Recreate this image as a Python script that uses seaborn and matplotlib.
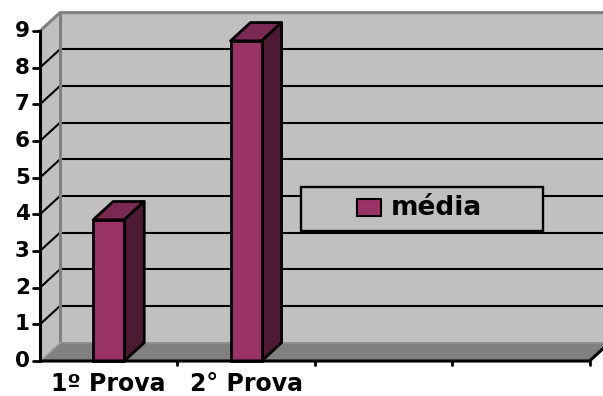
import numpy as np
import pandas as pd
import matplotlib
matplotlib.use("Agg")
import matplotlib.pyplot as plt
import seaborn as sns
from matplotlib.patches import Polygon, Rectangle

# ---- data ----
categories = ["1º Prova", "2° Prova", "", ""]
values = [3.85, 8.73]
series_name = "média"
y_ticks = list(range(0, 10))

# ---- style ----
sns.set_theme(style="white")
plt.rcParams["font.family"] = ["DejaVu Sans"]
FRONT = "#993366"
TOP = "#7a2952"
SIDE = "#4d1a33"
WALL = "#c0c0c0"
FLOOR = "#808080"
EDGE = "#808080"

DX, DY = 0.1455, 0.5      # 3-D depth offset in data units
BAR_W = 0.226
N_CAT = len(categories)
YMAX = 9

fig = plt.figure(figsize=(6.03, 3.96), dpi=100)
ax = fig.add_axes([0, 0, 1, 1])
ax.set_xlim(-0.791, 3.598)
ax.set_ylim(-0.954, 9.845)
ax.axis("off")

x0 = -0.5
x1 = N_CAT - 0.5
# back wall
ax.add_patch(Polygon([(x0 + DX, DY), (x1 + DX + 1, DY), (x1 + DX + 1, YMAX + DY), (x0 + DX, YMAX + DY)],
                     closed=True, facecolor=WALL, edgecolor="none", zorder=0))
# side wall
ax.add_patch(Polygon([(x0, 0), (x0, YMAX), (x0 + DX, YMAX + DY), (x0 + DX, DY)],
                     closed=True, facecolor=WALL, edgecolor="none", zorder=0))
# floor
ax.add_patch(Polygon([(x0, 0), (x1, 0), (x1 + DX, DY), (x0 + DX, DY)],
                     closed=True, facecolor=FLOOR, edgecolor="none", zorder=1))

# gridlines
for k in y_ticks[1:-1]:
    ax.plot([x0 + DX, x1 + DX + 1], [k + DY, k + DY], color="black", lw=1.5, zorder=1,
            solid_capstyle="butt")
    ax.plot([x0, x0 + DX], [k, k + DY], color="black", lw=1.5, zorder=1)

# wall edges
ax.plot([x0, x0 + DX, x1 + DX + 1], [YMAX, YMAX + DY, YMAX + DY], color=EDGE, lw=2.2, zorder=2)
ax.plot([x0 + DX, x0 + DX], [DY, YMAX + DY], color=EDGE, lw=2.2, zorder=2)
ax.plot([x0 + DX, x1 + DX + 1], [DY, DY], color="#909090", lw=1.2, zorder=2)
ax.plot([x0, x0 + DX], [0, DY], color="#a8a8a8", lw=1.2, zorder=2)

# front bars via seaborn
df = pd.DataFrame({"cat": categories[:len(values)], "val": values})
sns.barplot(data=df, x="cat", y="val", ax=ax, color=FRONT, saturation=1,
            width=BAR_W, edgecolor="black", linewidth=2.0, zorder=5, native_scale=False)
ax.set_xlim(-0.791, 3.598)
ax.set_ylim(-0.954, 9.845)
ax.axis("off")

# 3-D top and side faces from the bar patches
for p in list(ax.patches):
    if not isinstance(p, Rectangle) or p.get_facecolor()[:3] != matplotlib.colors.to_rgb(FRONT):
        continue
    bx, bw, bh = p.get_x(), p.get_width(), p.get_height()
    ax.add_patch(Polygon([(bx, bh), (bx + bw, bh), (bx + bw + DX, bh + DY), (bx + DX, bh + DY)],
                         closed=True, facecolor=TOP, edgecolor="black", lw=2.0, zorder=4,
                         joinstyle="round"))
    ax.add_patch(Polygon([(bx + bw, 0), (bx + bw, bh), (bx + bw + DX, bh + DY), (bx + bw + DX, DY)],
                         closed=True, facecolor=SIDE, edgecolor="black", lw=2.0, zorder=4,
                         joinstyle="round"))

# front axes lines
ax.plot([x0, x0], [0, YMAX], color="black", lw=2.2, zorder=6, solid_capstyle="projecting")
ax.plot([x0, x1, x1 + DX], [0, 0, DY], color="black", lw=2.2, zorder=6)
for k in y_ticks:
    ax.plot([x0 - 0.051, x0], [k, k], color="black", lw=2.0, zorder=6)
    ax.text(x0 - 0.073, k, str(k), ha="right", va="center", fontsize=15.5,
            fontweight="bold", color="black", zorder=7)
for i in range(N_CAT):
    ax.plot([i + 0.5, i + 0.5], [0, -0.11], color="black", lw=2.0, zorder=6)
for i, lab in enumerate(categories):
    if lab:
        ax.text(i, -0.627, lab, ha="center", va="center", fontsize=17,
                fontweight="bold", color="black", zorder=7)

# legend box
ax.add_patch(Rectangle((1.3996, 3.545), 3.161 - 1.3996, 4.745 - 3.545, facecolor=WALL,
                       edgecolor="black", lw=1.7, zorder=8))
ax.add_patch(Rectangle((1.807, 3.955), 0.175, 0.463, facecolor=FRONT,
                       edgecolor="black", lw=1.5, zorder=9))
ax.text(2.055, 4.172, series_name, ha="left", va="center", fontsize=19,
        fontweight="bold", color="black", zorder=9)

fig.savefig("out.png", dpi=100, facecolor="white")
